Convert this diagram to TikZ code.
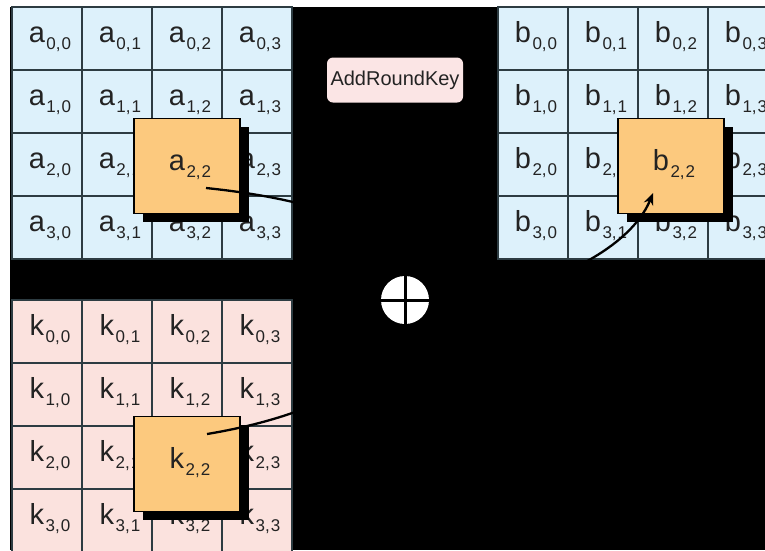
\documentclass[tikz,border=0pt]{standalone}
\usepackage{fontspec}
\setmainfont{Liberation Sans}
\usetikzlibrary{arrows.meta}
\definecolor{cellblue}{RGB}{221,241,251}
\definecolor{cellpink}{RGB}{251,226,222}
\definecolor{boxorange}{RGB}{252,201,126}
\definecolor{keypink}{RGB}{251,229,229}
\definecolor{gridline}{RGB}{45,60,66}
\definecolor{txt}{RGB}{35,35,35}
\newcommand\ent[3]{\hspace*{6pt}{\fontsize{29}{30}\selectfont #1}\kern1.5pt\raisebox{-7pt}{\fontsize{17}{17}\selectfont #2,\kern1pt#3}}
\tikzset{
  cellbox/.style={draw=gridline, line width=1.6pt, minimum width=70pt, minimum height=63pt,
    inner sep=0pt, text height=14pt, text depth=6pt, text=txt},
  cellA/.style={cellbox, fill=cellblue},
  cellK/.style={cellbox, fill=cellpink},
  hibox/.style={draw=black, line width=1.4pt, fill=boxorange, minimum width=106pt, minimum height=95pt,
    inner sep=0pt, text height=14pt, text depth=6pt, text=txt},
  shadowbox/.style={fill=black, minimum width=106pt, minimum height=95pt, inner sep=0pt},
  conn/.style={draw=black, line width=2.3pt}
}
\begin{document}
\begin{tikzpicture}[x=1pt,y=-1pt]
\useasboundingbox (0,0) rectangle (765,550);
\clip (0,0) rectangle (765,550);
\fill[white] (0,0) rectangle (765,550);
\fill[black] (10,7) rectangle (765,550);
% state grids
\foreach \row in {0,...,3}{
  \foreach \col in {0,...,3}{
    \node[cellA] (a\row\col) at ({47+70*\col},{38.5+63*\row}) {\ent{a}{\row}{\col}};
    \node[cellA] (b\row\col) at ({533+70*\col},{38.5+63*\row}) {\ent{b}{\row}{\col}};
    \node[cellK] (k\row\col) at ({47+70*\col},{331.5+63*\row}) {\ent{k}{\row}{\col}};
  }
}
% highlighted bytes with shadows
\node[shadowbox] (a22s) at (196,174) {};
\node[hibox] (a22) at (187,166) {\ent{a}{2}{2}};
\node[shadowbox] (b22s) at (680,174) {};
\node[hibox] (b22) at (671,166) {\ent{b}{2}{2}};
\node[shadowbox] (k22s) at (196,472) {};
\node[hibox] (k22) at (187,464) {\ent{k}{2}{2}};
% AddRoundKey label
\node[fill=keypink, rounded corners=6pt, minimum width=136pt, minimum height=45pt, inner sep=0pt,
  font=\fontsize{20}{22}\selectfont, text=txt] (ark) at (395,80) {AddRoundKey};
% xor symbol
\node[circle, fill=white, minimum size=48pt, inner sep=0pt] (xor) at (405,300) {};
\draw[line width=3pt, black] (xor.north) -- (xor.south);
\draw[line width=3pt, black] (xor.west) -- (xor.east);
% connectors
\coordinate (ao) at (206,188);
\coordinate (ko) at (207,434);
\coordinate (bt) at (653,193);
\draw[conn] (ao) .. controls (350,203) and (400,240) .. (xor.north);
\draw[conn] (ko) .. controls (340,412) and (400,360) .. (xor.south);
\draw[conn, -{Stealth[length=12pt,width=10pt]}] (xor.east) .. controls (540,298) and (630,250) .. (bt);
\end{tikzpicture}
\end{document}
